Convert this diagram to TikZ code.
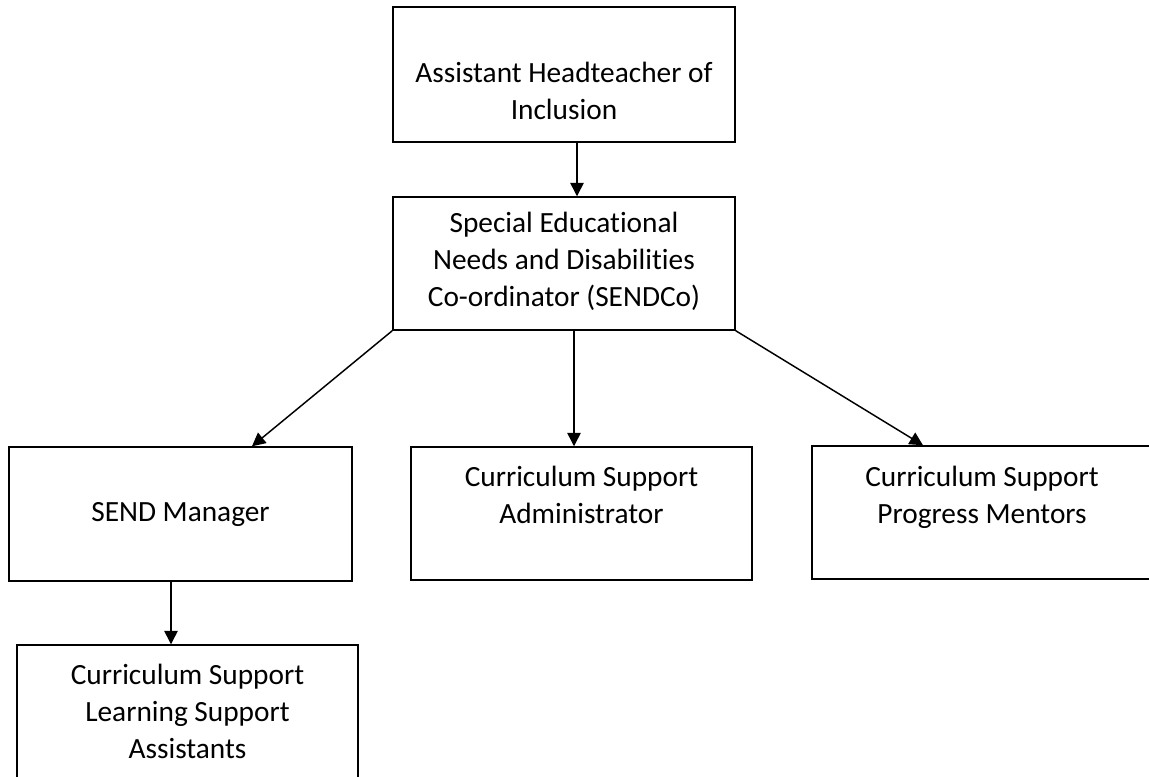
\documentclass[tikz,border=0pt]{standalone}
\usepackage{fontspec}
\setmainfont{Carlito}[Ligatures=NoCommon]
\usetikzlibrary{arrows.meta,positioning}

\tikzset{every picture/.style={line width=1.1pt}}
\tikzset{
  box/.style={draw, rectangle, inner sep=0pt},
  lbl/.style={anchor=north, align=center, inner sep=0pt, font=\fontsize{22}{27.5}\selectfont},
  arr/.style={-{Triangle[width=10pt,length=10pt]}}
}

\begin{document}
\begin{tikzpicture}[x=0.75pt,y=0.75pt,yscale=-1]
\useasboundingbox (0,0) rectangle (1149,777);
\clip (0,0) rectangle (1149,777);

%Shape: Rectangle [top]
\node[box, minimum width=256.5pt, minimum height=101.25pt] (aht) at (564,74.5) {};
%Shape: Rectangle [sendco]
\node[box, minimum width=256.5pt, minimum height=99.75pt] (sendco) at (564,263.5) {};
%Shape: Rectangle [send manager]
\node[box, minimum width=257.25pt, minimum height=100.5pt] (sendman) at (180.5,514) {};
%Shape: Rectangle [administrator]
\node[box, minimum width=255.75pt, minimum height=99.75pt] (admin) at (581.5,513.5) {};
%Shape: Rectangle [mentors]
\node[box, minimum width=255pt, minimum height=99.75pt] (mentors) at (982,512.5) {};
%Shape: Rectangle [assistants]
\node[box, minimum width=255.75pt, minimum height=108.75pt] (lsa) at (187.5,717.5) {};

% Text Node
\node[lbl, below=41.6pt of aht.north] (ahttxt) {Assistant Headteacher of\\Inclusion};
% Text Node
\node[lbl, below=11.6pt of sendco.north] (sendcotxt) {Special Educational\\Needs and Disabilities\\Co-ordinator (SENDCo)};
% Text Node
\node[lbl, below=41.6pt of sendman.north] (sendmantxt) {SEND Manager};
% Text Node
\node[lbl, below=14.6pt of admin.north] (admintxt) {Curriculum Support\\Administrator};
% Text Node
\node[lbl, below=15.4pt of mentors.north] (mentorstxt) {Curriculum Support\\Progress Mentors};
% Text Node
\node[lbl, below=14.6pt of lsa.north] (lsatxt) {Curriculum Support\\Learning Support\\Assistants};

%Straight Lines
\draw[arr] (aht.south -| 577,0) -- (sendco.north -| 577,0);
\draw[arr] (sendco.south west) -- (sendman.north -| 252,0);
\draw[arr] (sendco.south -| 574,0) -- (admin.north -| 574,0);
\draw[arr] (sendco.south east) -- (mentors.north -| 923,0);
\draw[arr] (sendman.south -| 171,0) -- (lsa.north -| 171,0);

\end{tikzpicture}
\end{document}
